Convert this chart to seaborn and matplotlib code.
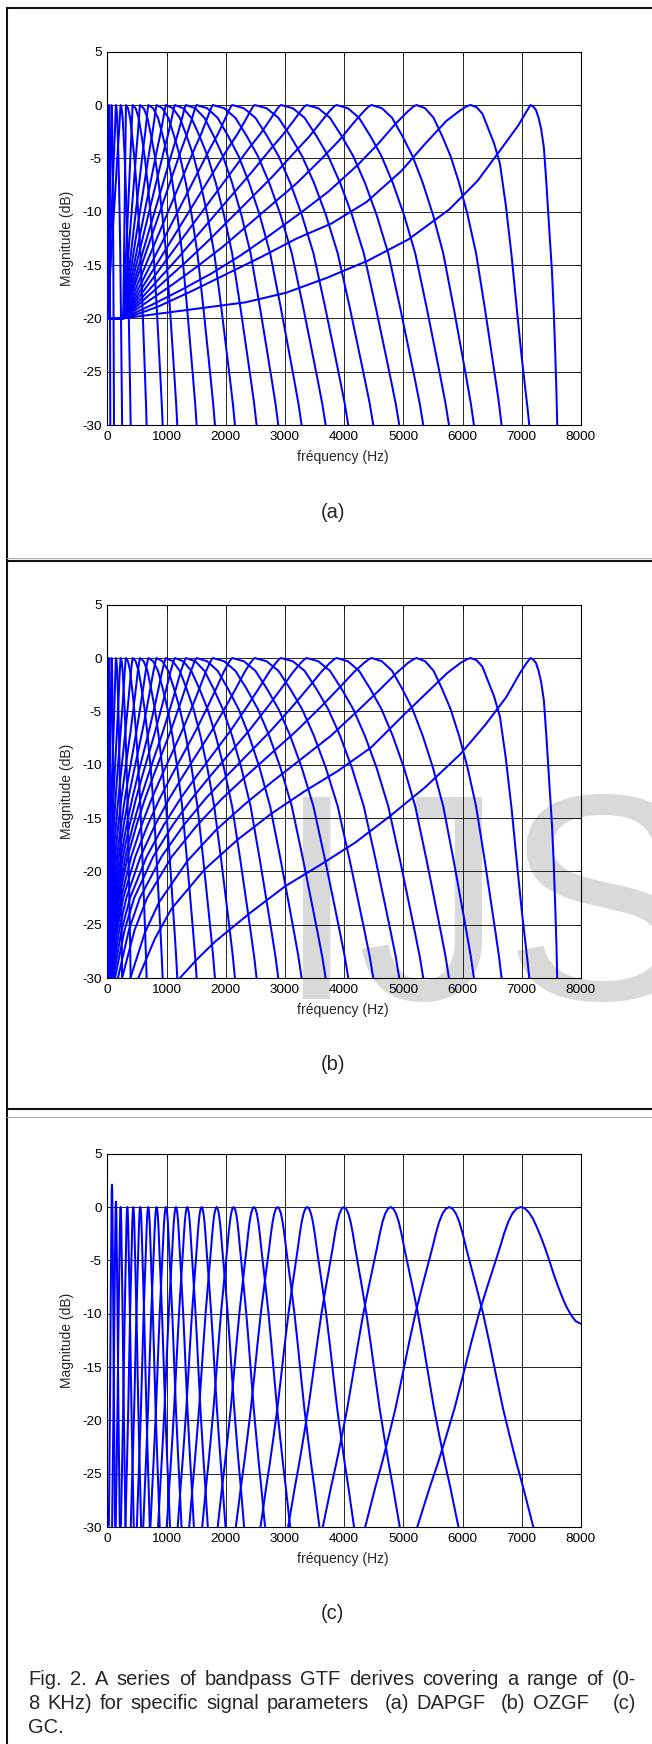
import matplotlib
matplotlib.use("Agg")
import matplotlib.pyplot as plt
from matplotlib.lines import Line2D
import pandas as pd
import seaborn as sns

# ---------------- data ----------------
# Panel (a) DAPGF : peak frequencies (Hz) and the frequency where each falling side reaches -30 dB
a_cf = [28, 73, 146, 225, 315, 428, 552, 693, 833, 991, 1143, 1329, 1509, 1783,
        2110, 2490, 2933, 3367, 3873, 4465, 5225, 6137, 7150]
a_end = [50, 113, 250, 394, 664, 935, 1182, 1509, 1818, 2156, 2522, 2888, 3282, 3688,
         4070, 4493, 4932, 5337, 5771, 6193, 6660, 7128, 7600]
a_fan_start = 270          # rising sides leave the -20 dB floor here
# rising side: level (dB) at fractions u of the way from the fan start to the peak
a_rise_u = [0, .05, .1, .2, .3, .4, .5, .6, .7, .8, .87, .93, .97, .99, 1]
a_rise_db = ([[-20, -19.0, -18.0, -16.0, -14.0, -12.0, -10.0, -8.0, -6.0, -4.0, -2.7, -1.4, -0.5, -0.1, 0]] * 17 +
             [[-20, -19.05, -18.1, -16.2, -14.3, -12.3, -10.3, -8.3, -6.3, -4.2, -2.8, -1.45, -0.5, -0.1, 0],
              [-20, -19.1, -18.2, -16.4, -14.6, -12.7, -10.7, -8.7, -6.7, -4.5, -3.0, -1.5, -0.5, -0.1, 0],
              [-20, -19.2, -18.4, -16.8, -15.1, -13.3, -11.3, -9.3, -7.3, -5.0, -3.3, -1.6, -0.55, -0.1, 0],
              [-20, -19.35, -18.7, -17.3, -15.8, -14.1, -12.2, -10.2, -8.1, -5.6, -3.6, -1.7, -0.6, -0.12, 0],
              [-20, -19.5, -18.9, -17.4, -15.8, -14.2, -12.5, -11.1, -9.1, -6.2, -3.6, -1.5, -0.5, -0.1, 0],
              [-20, -19.75, -19.5, -19.0, -18.5, -17.6, -16.2, -14.6, -12.6, -9.8, -7.1, -4.0, -1.9, -0.6, 0]])
# falling side: level (dB) at fractions v of the way from the peak to the -30 dB point
a_fall_v = [0, .1, .2, .3, .4, .5, .6, .7, .8, .87, .93, .97, 1]
a_fall_db = ([[0, -0.3, -1.2, -2.9, -4.8, -7.3, -10.3, -13.9, -18.9, -22.6, -25.8, -28.0, -30]] * 21 +
             [[0, -0.2, -0.8, -2.2, -3.6, -5.5, -9.4, -14.2, -19.8, -23.6, -26.5, -28.4, -30],
              [0, -0.15, -0.45, -1.2, -2.3, -4.0, -7.6, -11.6, -15.5, -19.3, -23.6, -26.8, -30]])

# Panel (b) OZGF : same peaks / falling sides, rising sides start at -30 dB
b_cf = a_cf
b_end = a_end
b_start = [5, 10, 15, 20, 22, 25, 28, 32, 36, 40, 45, 50, 55, 60, 65, 80, 100, 130,
           180, 250, 390, 524, 1227]
b_rise_w = [0, .05, .1, .2, .3, .4, .5, .6, .7, .8, .87, .93, .97, .99, 1]
b_rise_db = ([[-30, -25.5, -22.5, -18.6, -15.7, -13.2, -11.0, -8.9, -6.8, -4.5, -2.8, -1.3, -0.45, -0.1, 0]] * 20 +
             [[-30, -25.8, -22.9, -19.0, -16.1, -13.7, -11.5, -9.4, -7.3, -4.8, -3.0, -1.4, -0.45, -0.1, 0],
              [-30, -26.3, -23.5, -19.8, -17.0, -14.6, -12.5, -10.6, -8.4, -5.3, -3.2, -1.4, -0.45, -0.1, 0],
              [-30, -28.2, -26.6, -23.9, -21.4, -19.4, -17.3, -14.8, -12.1, -9.0, -6.3, -3.7, -1.4, -0.4, 0]])
b_fall_v = a_fall_v
b_fall_db = a_fall_db

# Panel (c) GC : peaks, peak level and half width (Hz) at -30 dB
c_cf = [79, 146, 225, 338, 439, 557, 692, 833, 991, 1160, 1351, 1593, 1847, 2134,
        2477, 2877, 3378, 3997, 4786, 5776, 6981]
c_peak = [2.1, 0.5] + [0] * 19
c_hw = [49, 64, 83, 109, 133, 161, 193, 226, 263, 303, 347, 404, 464, 531, 612, 706,
        790, 943, 1146, 1420, 1745]
c_shape_x = [0, 0.04, 0.08, 0.12, 0.16, 0.2, 0.24, 0.32, 0.4, 0.48, 0.56, 0.64, 0.72,
             0.8, 0.88, 1.0, 1.08]
c_shape_db = [0, -0.16, -0.62, -1.4, -2.5, -3.8, -5.0, -7.4, -9.9, -12.8, -15.9, -18.9,
              -21.5, -24.0, -26.3, -30, -32]
c_last_right_hz = [0, 70, 140, 210, 280, 350, 420, 490, 560, 630, 700, 770, 850, 930, 1019]
c_last_right_db = [0, -0.12, -0.5, -1.1, -1.95, -2.9, -3.95, -5.1, -6.3, -7.4, -8.4,
                   -9.3, -10.1, -10.7, -10.95]

x_ticks = [0, 1000, 2000, 3000, 4000, 5000, 6000, 7000, 8000]
y_ticks = [-30, -25, -20, -15, -10, -5, 0, 5]

# ---------------- build tables ----------------
def table_a():
    rec = []
    for i, cf in enumerate(a_cf):
        f0 = a_fan_start if cf > a_fan_start else 0
        pts = []
        if f0 > 0:
            pts.append((0, a_rise_db[i][0]))
        pts += [(f0 + u * (cf - f0), d) for u, d in zip(a_rise_u, a_rise_db[i])]
        pts += [(cf + v * (a_end[i] - cf), d) for v, d in zip(a_fall_v[1:], a_fall_db[i][1:])]
        rec += [dict(curve=i, f=f, db=d) for f, d in pts]
    return pd.DataFrame(rec)


def table_b():
    rec = []
    for i, cf in enumerate(b_cf):
        f0 = b_start[i]
        pts = [(f0 + w * (cf - f0), d) for w, d in zip(b_rise_w, b_rise_db[i])]
        pts += [(cf + v * (b_end[i] - cf), d) for v, d in zip(b_fall_v[1:], b_fall_db[i][1:])]
        rec += [dict(curve=i, f=f, db=d) for f, d in pts]
    return pd.DataFrame(rec)


def table_c():
    rec = []
    n = len(c_cf)
    for i, cf in enumerate(c_cf):
        left = [(cf - x * c_hw[i], d + c_peak[i]) for x, d in zip(c_shape_x[::-1], c_shape_db[::-1])]
        if i == n - 1:
            right = [(cf + h, d) for h, d in zip(c_last_right_hz[1:], c_last_right_db[1:])]
        else:
            right = [(cf + x * c_hw[i], d + c_peak[i]) for x, d in zip(c_shape_x[1:], c_shape_db[1:])]
        pts = [(max(f, 0), d) for f, d in left + right]
        rec += [dict(curve=i, f=f, db=d) for f, d in pts]
    return pd.DataFrame(rec)

# ---------------- figure ----------------
sns.set_theme(style="white")
plt.rcParams['font.family'] = ['Liberation Sans', 'DejaVu Sans']
plt.rcParams['axes.unicode_minus'] = False

W, H = 652, 1744
fig = plt.figure(figsize=(W / 100, H / 100), dpi=100)
fig.patch.set_facecolor('white')

AX_L, AX_W = 107.3, 473.6

def px(x, y):
    return x / W, 1 - y / H


# watermark behind panel (b)
fig.text(*px(276, 999), 'IJSER', fontsize=211, color='#d9d9d9', zorder=-5,
         ha='left', va='baseline', family=['Liberation Sans'])

panels = [(51.7, 425.0, table_a(), '(a)', 512.5),
          (604.7, 978.0, table_b(), '(b)', 1065.0),
          (1153.7, 1527.0, table_c(), '(c)', 1613.5)]

for top, bot, df, tag, tag_y in panels:
    ax = fig.add_axes([AX_L / W, 1 - bot / H, AX_W / W, (bot - top) / H])
    ax.set_facecolor('none')
    sns.lineplot(data=df, x='f', y='db', units='curve', estimator=None, sort=False,
                 color=(0, 0, 1), linewidth=1.45, ax=ax, legend=False, zorder=3)
    ax.set_xlim(0, 8000)
    ax.set_ylim(-30, 5)
    ax.set_xticks(x_ticks)
    ax.set_yticks(y_ticks)
    ax.grid(True, color='black', linewidth=0.7, alpha=0.85, zorder=1)
    ax.set_axisbelow(True)
    ax.tick_params(direction='in', length=3, top=True, right=True, labelsize=9.7,
                   pad=4, colors='black', width=0.7)
    for s in ax.spines.values():
        s.set_color('black')
        s.set_linewidth(0.8)
    ax.set_xlabel('')
    ax.set_ylabel('')
    fig.text(*px(66.5, (top + bot) / 2), 'Magnitude (dB)', rotation=90,
             ha='center', va='center', fontsize=10)
    fig.text(*px(343, bot + 32), 'fréquency (Hz)', ha='center', va='center', fontsize=10)
    fig.text(*px(332.6, tag_y), tag, ha='center', va='center', fontsize=14.5)

# table frame (dark rules plus the faint companion rules of the table)
for xs, ys, col, lw in [([6.5, 6.5], [8, H], '#111111', 1.5),
                        ([6.5, W], [8, 8], '#111111', 1.5),
                        ([6.5, W], [557.5, 557.5], '#b0b0b0', 0.8),
                        ([6.5, W], [561, 561], '#111111', 1.5),
                        ([6.5, W], [1109, 1109], '#111111', 1.5),
                        ([6.5, W], [1117, 1117], '#b0b0b0', 0.8)]:
    fig.add_artist(Line2D([x / W for x in xs], [1 - y / H for y in ys],
                          transform=fig.transFigure, color=col, linewidth=lw))

# justified caption
renderer = fig.canvas.get_renderer()
cap_fs = 14.5
lines = ["Fig. 2. A series of bandpass GTF derives covering a range of (0-",
         "8 KHz) for specific signal parameters  (a) DAPGF  (b) OZGF   (c)"]
for line, y in zip(lines, [1679, 1703]):
    toks = line.split(' ')
    ts = [fig.text(*px(0, y), t, fontsize=cap_fs, ha='left', va='center') for t in toks]
    ws = [t.get_window_extent(renderer).width if t.get_text() else 0 for t in ts]
    gap = (636 - 28 - sum(ws)) / (len(toks) - 1)
    x = 28
    for t, w in zip(ts, ws):
        t.set_x(x / W)
        x += w + gap
fig.text(*px(28, 1727), 'GC.', fontsize=cap_fs, ha='left', va='center')

fig.savefig('out.png', dpi=100)
